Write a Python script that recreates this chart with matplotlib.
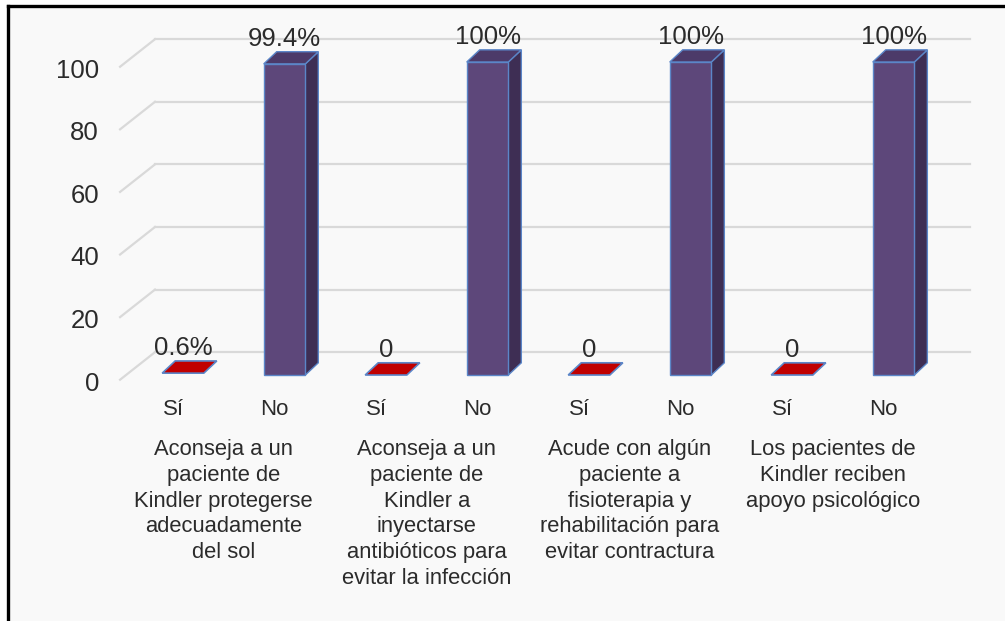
import matplotlib
matplotlib.use("Agg")
import matplotlib.pyplot as plt
from matplotlib.patches import Polygon, Rectangle
from matplotlib.lines import Line2D
from matplotlib.transforms import offset_copy, ScaledTranslation

plt.rcParams['font.family'] = ['Liberation Sans', 'DejaVu Sans']

# datos de la encuesta
categorias = ["Sí", "No", "Sí", "No", "Sí", "No", "Sí", "No"]
valores = [0.6, 99.4, 0, 100, 0, 100, 0, 100]
preguntas = [
    "Aconseja a un\npaciente de\nKindler protegerse\nadecuadamente\ndel sol",
    "Aconseja a un\npaciente de\nKindler a\ninyectarse\nantibióticos para\nevitar la infección",
    "Acude con algún\npaciente a\nfisioterapia y\nrehabilitación para\nevitar contractura",
    "Los pacientes de\nKindler reciben\napoyo psicológico",
]
yticks = [0, 20, 40, 60, 80, 100]

morado = "#5d477a"
morado_lado = "#3e2e54"
morado_tope = "#4c3a69"
rojo = "#c00000"
borde = "#5b86c8"
texto = "#2b2b2b"

fig = plt.figure(figsize=(10.05, 6.21), dpi=100, facecolor="white")
# fondo y marco
fig.patches.append(Rectangle((8 / 1005, 0), 1, 1 - 6 / 621, transform=fig.transFigure,
                             facecolor="#f9f9f9", edgecolor="none", zorder=-10))
fig.lines.append(Line2D([8 / 1005, 8 / 1005], [0, 1 - 6 / 621], transform=fig.transFigure,
                        color="black", lw=2.4, zorder=-5))
fig.lines.append(Line2D([8 / 1005, 1], [1 - 6 / 621, 1 - 6 / 621], transform=fig.transFigure,
                        color="black", lw=2.4, zorder=-5))

ax = fig.add_axes([0.1316, 0.3961, 0.808, 0.504])
ax.set_facecolor("none")
ax.set_xlim(-0.5, 7.5)
ax.set_ylim(0, 100)
for s in ax.spines.values():
    s.set_visible(False)

# profundidad de las barras (en unidades de datos)
dx, dy = 0.128, 3.9
# pared de fondo y lineas de cuadricula
gx0, gx1 = -0.276, 7.75
for v in yticks:
    ax.plot([gx0, gx1], [v + 7.3, v + 7.3], color="#d9d9d9", lw=1.6, zorder=1, clip_on=False)
    ax.plot([-0.62, gx0], [v - 1.5, v + 7.3], color="#d9d9d9", lw=1.6, zorder=1, clip_on=False)

x = list(range(len(categorias)))
w = 0.41
for xi, v, cat in zip(x, valores, categorias):
    l, r = xi - w / 2, xi + w / 2
    if cat == "Sí":
        ax.add_patch(Polygon([(l, v), (r, v), (r + dx, v + dy), (l + dx, v + dy)],
                             facecolor=rojo, edgecolor=borde, lw=1.2, zorder=3, clip_on=False))
    else:
        ax.add_patch(Polygon([(r, 0), (r + dx, dy), (r + dx, v + dy), (r, v)],
                             facecolor=morado_lado, edgecolor=borde, lw=1.0, zorder=3, clip_on=False))
        ax.add_patch(Polygon([(l, v), (r, v), (r + dx, v + dy), (l + dx, v + dy)],
                             facecolor=morado_tope, edgecolor=borde, lw=1.0, zorder=3, clip_on=False))
        ax.bar(xi, v, width=w, color=morado, edgecolor=borde, lw=1.0, zorder=4, clip_on=False)

    etiqueta = "0" if v == 0 else f"{v:g}%"
    ax.text(xi, v, etiqueta, ha="center", va="center", fontsize=18.5, color=texto,
            transform=offset_copy(ax.transData, fig=fig, x=0, y=25, units="dots"), zorder=5)

ax.set_yticks(yticks)
ax.set_yticklabels([str(t) for t in yticks], fontsize=18.5, color=texto)
ax.set_xticks(x)
ax.set_xticklabels(categorias, fontsize=16, color=texto)
ax.tick_params(axis="y", length=0, pad=24)
ax.tick_params(axis="x", length=0, pad=17)
for lbl in ax.get_yticklabels():
    lbl.set_transform(lbl.get_transform() + ScaledTranslation(0, -0.06, fig.dpi_scale_trans))
for lbl in ax.get_xticklabels():
    lbl.set_transform(lbl.get_transform() + ScaledTranslation(-0.10, 0, fig.dpi_scale_trans))

for i, p in enumerate(preguntas):
    ax.text(2 * i + 0.5, 0, p, ha="center", va="top", fontsize=15.8, color=texto,
            linespacing=1.3,
            transform=offset_copy(ax.transData, fig=fig, x=-10, y=-64, units="dots"))

fig.savefig("out.png", dpi=100, facecolor=fig.get_facecolor())
